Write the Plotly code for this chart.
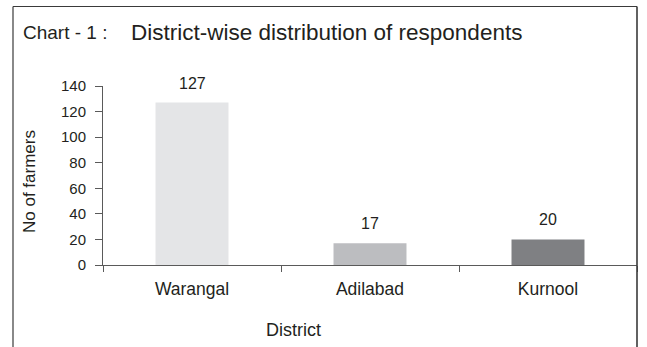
import plotly.graph_objects as go

# Respondents per district
districts = ["Warangal", "Adilabad", "Kurnool"]
farmers = [127, 17, 20]
bar_colors = ["#e4e5e7", "#bcbdc0", "#7f8083"]
y_ticks = [0, 20, 40, 60, 80, 100, 120, 140]

W, H = 647, 347
L, R, T, B = 103, 10, 86, 82
plot_w = W - L - R
plot_h = H - T - B


def px_to_paper_x(px):
    return (px - L) / plot_w


def px_to_paper_y(py):
    return (H - B - py) / plot_h


font_family = "Liberation Sans, Arial, sans-serif"
ink = "#231f20"

fig = go.Figure()
fig.add_trace(go.Bar(
    x=districts,
    y=farmers,
    marker=dict(color=bar_colors, line=dict(width=0)),
    width=0.41,
    hoverinfo="x+y",
))

annotations = []
# value labels above each bar
for d, v in zip(districts, farmers):
    annotations.append(dict(
        x=d, y=v, xref="x", yref="y", text=str(v), showarrow=False,
        yanchor="bottom", yshift=9,
        font=dict(family=font_family, size=16, color=ink),
    ))

# titles
annotations += [
    dict(x=px_to_paper_x(21), y=px_to_paper_y(32), xref="paper", yref="paper",
         text="Chart - 1 :", showarrow=False, xanchor="left", yanchor="middle",
         font=dict(family=font_family, size=19, color=ink)),
    dict(x=px_to_paper_x(129), y=px_to_paper_y(32), xref="paper", yref="paper",
         text="District-wise distribution of respondents", showarrow=False,
         xanchor="left", yanchor="middle",
         font=dict(family=font_family, size=22.5, color=ink)),
    dict(x=px_to_paper_x(293), y=px_to_paper_y(330), xref="paper", yref="paper",
         text="District", showarrow=False, xanchor="center", yanchor="middle",
         font=dict(family=font_family, size=18, color=ink)),
    dict(x=px_to_paper_x(29), y=px_to_paper_y(182), xref="paper", yref="paper",
         text="No of farmers", showarrow=False, textangle=-90,
         xanchor="center", yanchor="middle",
         font=dict(family=font_family, size=17, color=ink)),
]

# frame around the whole chart (open at the bottom)
frame_color = "#3a3a3a"
frame_top = 6.5
shapes = [
    dict(type="line", xref="paper", yref="paper",
         x0=px_to_paper_x(13), x1=px_to_paper_x(13),
         y0=px_to_paper_y(frame_top), y1=px_to_paper_y(360),
         line=dict(color=frame_color, width=1.2)),
    dict(type="line", xref="paper", yref="paper",
         x0=px_to_paper_x(13), x1=px_to_paper_x(637),
         y0=px_to_paper_y(frame_top), y1=px_to_paper_y(frame_top),
         line=dict(color=frame_color, width=1.2)),
    dict(type="line", xref="paper", yref="paper",
         x0=px_to_paper_x(637), x1=px_to_paper_x(637),
         y0=px_to_paper_y(frame_top), y1=px_to_paper_y(360),
         line=dict(color=frame_color, width=1.6)),
]

axis_color = "#5a5a5a"
fig.update_layout(
    width=W, height=H,
    margin=dict(l=L, r=R, t=T, b=B, pad=0),
    paper_bgcolor="white", plot_bgcolor="white",
    showlegend=False,
    annotations=annotations,
    shapes=shapes,
    font=dict(family=font_family, color=ink),
    xaxis=dict(
        showline=True, linecolor=axis_color, linewidth=1,
        ticks="outside", tickson="boundaries", ticklen=6, tickcolor=axis_color,
        showgrid=False, zeroline=False,
        tickfont=dict(family=font_family, size=17.5, color=ink),
        ticklabelstandoff=8,
    ),
    yaxis=dict(
        range=[0, 140], tickvals=y_ticks,
        showline=True, linecolor=axis_color, linewidth=1,
        ticks="outside", ticklen=7, tickcolor=axis_color,
        showgrid=False, zeroline=False,
        tickfont=dict(family=font_family, size=15, color=ink),
        ticklabelstandoff=6,
    ),
)

fig.write_html("out.html")
